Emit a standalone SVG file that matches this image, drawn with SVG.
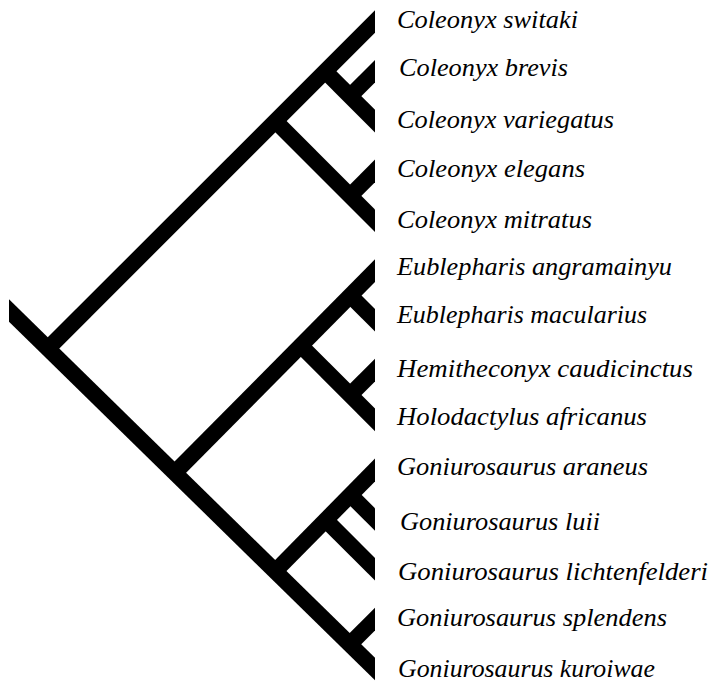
<svg xmlns="http://www.w3.org/2000/svg" width="712" height="682" viewBox="0 0 712 682">
<style>
.br{stroke:#000;stroke-width:16;stroke-linecap:butt;fill:none}
.lb{font-family:"Liberation Serif","Times New Roman",serif;font-style:italic;font-size:25px;fill:#000}
</style>
<defs>
<clipPath id="clip"><rect x="9" y="0" width="366" height="682"/></clipPath>
</defs>
<rect width="712" height="682" fill="#fff"/>
<g id="connectors" clip-path="url(#clip)">
<!-- root -->
<line class="br" x1="-5" y1="296.8" x2="395" y2="688.6"/>
<line class="br" x1="47.9" y1="348.5" x2="395" y2="1.5"/>
<!-- Coleonyx -->
<line class="br" x1="275.4" y1="121.1" x2="395" y2="240.7"/>
<line class="br" x1="325.2" y1="71.3" x2="395" y2="141.1"/>
<line class="br" x1="350.1" y1="96.2" x2="395" y2="51.3"/>
<line class="br" x1="350.1" y1="195.8" x2="395" y2="150.9"/>
<!-- Eublepharinae -->
<line class="br" x1="175.5" y1="472" x2="395" y2="250.5"/>
<line class="br" x1="300.3" y1="345.2" x2="395" y2="439.9"/>
<line class="br" x1="350.1" y1="295.4" x2="395" y2="340.3"/>
<line class="br" x1="350.1" y1="395" x2="395" y2="350.1"/>
<!-- Goniurosaurus -->
<line class="br" x1="275.4" y1="571" x2="395" y2="449.7"/>
<line class="br" x1="325.2" y1="519.5" x2="395" y2="589.3"/>
<line class="br" x1="350.1" y1="494.6" x2="395" y2="539.5"/>
<line class="br" x1="350.1" y1="644" x2="395" y2="599.1"/>
</g>
<g id="t0"><text class="lb" x="397" y="28" textLength="181" lengthAdjust="spacingAndGlyphs">Coleonyx switaki</text></g>
<g id="t1"><text class="lb" x="399" y="76" textLength="169" lengthAdjust="spacingAndGlyphs">Coleonyx brevis</text></g>
<g id="t2"><text class="lb" x="397" y="128" textLength="217" lengthAdjust="spacingAndGlyphs">Coleonyx variegatus</text></g>
<g id="t3"><text class="lb" x="397" y="177" textLength="188" lengthAdjust="spacingAndGlyphs">Coleonyx elegans</text></g>
<g id="t4"><text class="lb" x="397" y="228" textLength="195" lengthAdjust="spacingAndGlyphs">Coleonyx mitratus</text></g>
<g id="t5"><text class="lb" x="397" y="275" textLength="275" lengthAdjust="spacingAndGlyphs">Eublepharis angramainyu</text></g>
<g id="t6"><text class="lb" x="397" y="323" textLength="250" lengthAdjust="spacingAndGlyphs">Eublepharis macularius</text></g>
<g id="t7"><text class="lb" x="397" y="377" textLength="296" lengthAdjust="spacingAndGlyphs">Hemitheconyx caudicinctus</text></g>
<g id="t8"><text class="lb" x="397" y="425" textLength="250" lengthAdjust="spacingAndGlyphs">Holodactylus africanus</text></g>
<g id="t9"><text class="lb" x="397" y="475" textLength="251" lengthAdjust="spacingAndGlyphs">Goniurosaurus araneus</text></g>
<g id="t10"><text class="lb" x="400" y="530" textLength="200" lengthAdjust="spacingAndGlyphs">Goniurosaurus luii</text></g>
<g id="t11"><text class="lb" x="398" y="580" textLength="310" lengthAdjust="spacingAndGlyphs">Goniurosaurus lichtenfelderi</text></g>
<g id="t12"><text class="lb" x="397" y="626" textLength="270" lengthAdjust="spacingAndGlyphs">Goniurosaurus splendens</text></g>
<g id="t13"><text class="lb" x="398" y="677" textLength="257" lengthAdjust="spacingAndGlyphs">Goniurosaurus kuroiwae</text></g>
</svg>
